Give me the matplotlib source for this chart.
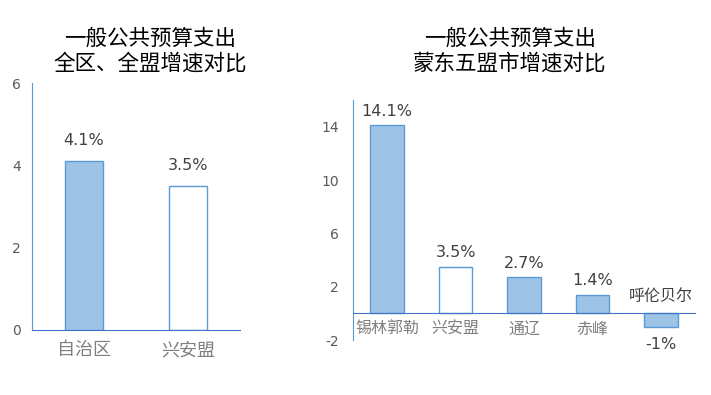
import matplotlib.pyplot as plt
import numpy as np

plt.rcParams['font.family'] = ['DejaVu Sans', 'Noto Sans CJK SC']
plt.rcParams['axes.unicode_minus'] = False
cjk = 'Noto Sans CJK SC'

# left chart data
cats_l = ['自治区', '兴安盟']
vals_l = [4.1, 3.5]
lbls_l = ['4.1%', '3.5%']
fill_l = [True, False]

# right chart data
cats_r = ['锡林郭勒', '兴安盟', '通辽', '赤峰', '呼伦贝尔']
vals_r = [14.1, 3.5, 2.7, 1.4, -1]
lbls_r = ['14.1%', '3.5%', '2.7%', '1.4%', '-1%']
fill_r = [True, False, True, True, True]

bar_fc = '#9DC3E6'
bar_ec = '#5B9BD5'
txt = '#404040'
tick_c = '#595959'

fig = plt.figure(figsize=(7.11, 3.95), dpi=100)

def style(ax):
    for s in ['top', 'right']:
        ax.spines[s].set_visible(False)
    ax.spines['left'].set_color('#5B9BD5')
    ax.spines['bottom'].set_color('#4472C4')
    ax.tick_params(length=0, colors=tick_c, labelsize=10)

# ---- left
ax1 = fig.add_axes([0.045, 0.1646, 0.2925, 0.625])
x = np.arange(len(cats_l))
for i, (v, f) in enumerate(zip(vals_l, fill_l)):
    ax1.bar(x[i], v, width=0.36, color=bar_fc if f else 'white', edgecolor=bar_ec, linewidth=1)
    ax1.text(x[i], v + 0.32, lbls_l[i], ha='center', va='bottom', fontsize=11.5, color=txt)
ax1.set_xlim(-0.5, 1.5)
ax1.set_ylim(0, 6)
ax1.set_yticks([0, 2, 4, 6])
ax1.set_xticks(x)
style(ax1)
ax1.set_xticklabels(cats_l, fontsize=13, color='#7F7F7F', family=cjk)
ax1.tick_params(axis='x', pad=8)
ax1.tick_params(axis='y', pad=8)
fig.text(0.211, 0.87, '一般公共预算支出\n全区、全盟增速对比', ha='center', va='center',
         fontsize=15.5, fontweight='medium', color='black', linespacing=1.15, family=cjk)

# ---- right
ax2 = fig.add_axes([0.4965, 0.139, 0.481, 0.6076])
x = np.arange(len(cats_r))
for i, (v, f) in enumerate(zip(vals_r, fill_r)):
    ax2.bar(x[i], v, width=0.49, color=bar_fc if f else 'white', edgecolor=bar_ec, linewidth=1)
    if v >= 0:
        ax2.text(x[i], v + 0.5, lbls_r[i], ha='center', va='bottom', fontsize=11.5, color=txt)
    else:
        ax2.text(x[i], v - 0.8, lbls_r[i], ha='center', va='top', fontsize=11.5, color=txt)
ax2.set_xlim(-0.5, 4.5)
ax2.set_ylim(-2, 16)
ax2.set_yticks([-2, 2, 6, 10, 14])
ax2.set_xticks([])
ax2.spines['bottom'].set_position(('data', 0))
for i, (c, v) in enumerate(zip(cats_r, vals_r)):
    if v >= 0:
        ax2.text(x[i], -0.55, c, ha='center', va='top', fontsize=11.5, color='#7F7F7F', family=cjk)
    else:
        ax2.text(x[i], 0.6, c, ha='center', va='bottom', fontsize=11.5, color=txt, family=cjk)
style(ax2)
ax2.tick_params(axis='y', pad=10)
fig.text(0.717, 0.87, '一般公共预算支出\n蒙东五盟市增速对比', ha='center', va='center',
         fontsize=15.5, fontweight='medium', color='black', linespacing=1.15, family=cjk)

fig.savefig('out.png', dpi=100)
